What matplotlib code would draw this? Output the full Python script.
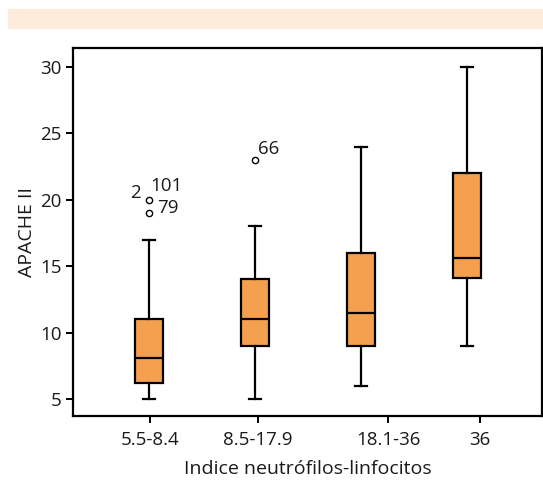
import matplotlib
matplotlib.use("Agg")
import matplotlib.pyplot as plt
from matplotlib.patches import Rectangle

plt.rcParams['font.family'] = ['Open Sans', 'DejaVu Sans']

# grupos del indice neutrofilos-linfocitos
grupos = ["5.5-8.4", "8.5-17.9", "18.1-36", "36"]

# resumen de APACHE II por grupo
bigote_inf = [5, 5, 6, 9]
q1 = [6.2, 9, 9, 14.1]
mediana = [8.1, 11, 11.5, 15.6]
q3 = [11, 14, 16, 22]
bigote_sup = [17, 18, 24, 30]

# valores atipicos y numero de paciente
atipicos = [[20, 19], [23], [], []]
etiquetas = [[("2", "101"), ("79",)], [("66",)], [], []]

stats = []
for i in range(len(grupos)):
    stats.append(dict(whislo=bigote_inf[i], q1=q1[i], med=mediana[i], q3=q3[i],
                      whishi=bigote_sup[i], fliers=atipicos[i], label=grupos[i]))

fig = plt.figure(figsize=(5.43, 4.84), dpi=100)

# franja de cabecera
fig.patches.append(Rectangle((8 / 543, 1 - 27.5 / 484), 1, 18.5 / 484,
                             transform=fig.transFigure, color="#fdebdc", zorder=0))

ax = fig.add_axes([73 / 543, 1 - 415.7 / 484, 469 / 543, 367.7 / 484])

pos = [1, 2, 3, 4]
ax.bxp(stats, positions=pos, widths=0.27, patch_artist=True, showfliers=True,
       boxprops=dict(facecolor="#f5a04f", edgecolor="black", linewidth=1.6),
       medianprops=dict(color="black", linewidth=1.6),
       whiskerprops=dict(color="black", linewidth=1.6),
       capprops=dict(color="black", linewidth=1.6),
       capwidths=0.12,
       flierprops=dict(marker="o", markersize=4.5, markerfacecolor="white",
                       markeredgecolor="black", markeredgewidth=1.0))

fs = 13.5
txt = "#1a1a1a"

# numeros de paciente junto a los atipicos
for i, vals in enumerate(atipicos):
    for v, labs in zip(vals, etiquetas[i]):
        if len(labs) == 2:
            ax.annotate(labs[0], (pos[i], v), xytext=(-6, 5), textcoords="offset points",
                        ha="right", va="center", fontsize=fs, color=txt)
            ax.annotate(labs[1], (pos[i], v), xytext=(1, 10), textcoords="offset points",
                        ha="left", va="center", fontsize=fs, color=txt)
        elif labs[0] == "79":
            ax.annotate(labs[0], (pos[i], v), xytext=(6, 4), textcoords="offset points",
                        ha="left", va="center", fontsize=fs, color=txt)
        else:
            ax.annotate(labs[0], (pos[i], v), xytext=(2, 8), textcoords="offset points",
                        ha="left", va="center", fontsize=fs, color=txt)

ax.set_xlim(0.283, 4.708)
ax.set_ylim(3.74, 31.43)
ax.set_xticks([1.009, 2.028, 3.255, 4.123])
ax.set_xticklabels(grupos)
ax.set_yticks([5, 10, 15, 20, 25, 30])

for s in ax.spines.values():
    s.set_linewidth(1.6)
ax.tick_params(axis="both", labelsize=fs, length=5, width=1.4, color="black",
               labelcolor=txt)
ax.tick_params(axis="x", pad=6)
ax.tick_params(axis="y", pad=3)
ax.set_xlabel("Indice neutrófilos-linfocitos", fontsize=14, labelpad=8, color=txt)
ax.set_ylabel("APACHE II", fontsize=14, labelpad=3, color=txt)

fig.savefig("out.png", dpi=100)
